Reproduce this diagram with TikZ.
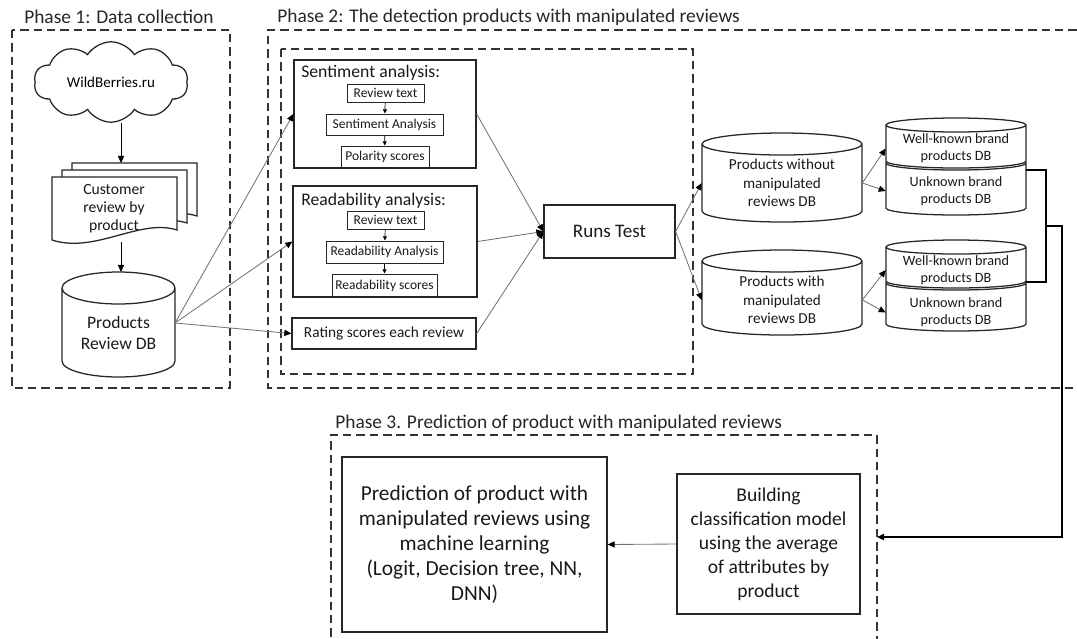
\documentclass[tikz,border=0pt]{standalone}
\usepackage{fontspec}
\setmainfont{Carlito}
\usetikzlibrary{shapes.symbols, arrows.meta}

\tikzset{
  phase/.style={draw=black!80, line width=1.3pt, dash pattern=on 6pt off 3.5pt},
  phasetitle/.style={anchor=west, inner sep=0pt, text=black!85, font=\fontsize{13.8}{16}\selectfont},
  box/.style={draw=black!85, line width=0.9pt, align=center, inner sep=0pt, text=black!90},
  minibox/.style={box, line width=0.7pt, font=\fontsize{9.6}{11}\selectfont},
  boxtitle/.style={anchor=west, inner sep=0pt, text=black!90, font=\fontsize{12.6}{14}\selectfont},
  dbline/.style={draw=black!85, line width=0.9pt},
  dbtext/.style={align=center, inner sep=0pt, text=black!90},
  flow/.style={draw=black!55, line width=0.6pt, -{Triangle[length=5pt, width=4.4pt, color=black]}},
  miniflow/.style={draw=black, line width=0.5pt, -{Triangle[length=3pt, width=2.8pt]}},
  link/.style={draw=black, line width=1.2pt}
}

% cylinder: left x, top centre y, right x, bottom centre y, half height of ellipse
\newcommand{\dbshape}[5]{%
  \draw[dbline] (#1,#2) -- (#1,#4)
    arc[start angle=180, end angle=360, x radius={(#3-#1)*0.125mm}, y radius=#5]
    -- (#3,#2)
    arc[start angle=0, end angle=360, x radius={(#3-#1)*0.125mm}, y radius=#5];
}
% lower half of a stacked cylinder
\newcommand{\dblower}[5]{%
  \draw[dbline] (#1,#2)
    arc[start angle=180, end angle=360, x radius={(#3-#1)*0.125mm}, y radius=#5]
    -- (#3,#4)
    arc[start angle=0, end angle=-180, x radius={(#3-#1)*0.125mm}, y radius=#5]
    -- cycle;
}

\begin{document}
\begin{tikzpicture}[x=0.25mm, y=-0.25mm]
\useasboundingbox (0,0) rectangle (1077,638);

% phase frames
\draw[phase] (12,30) rectangle (230,388);
\draw[phase] (1090,30) -- (268,30) -- (268,388) -- (1090,388);
\draw[phase] (281,49) rectangle (693,374);
\draw[phase] (331,650) -- (331,435) -- (877,435) -- (877,650);

\node[phasetitle] (title1) at (24,17) {Phase 1: Data collection};
\node[phasetitle] (title2) at (277,17) {Phase 2: The detection products with manipulated reviews};
\node[phasetitle] (title3) at (335,423) {Phase 3. Prediction of product with manipulated reviews};

%%% Phase 1
\node[cloud, draw=black!85, line width=0.9pt, cloud puffs=10, cloud puff arc=115, aspect=2,
      minimum width=38.5mm, minimum height=20mm, inner sep=0pt,
      font=\fontsize{10.7}{13}\selectfont] (wb) at (111,82) {WildBerries.ru};

% stacked documents
\foreach \d in {2,1,0}{
  \begin{scope}[shift={(\d*10,-\d*7)}]
    \draw[dbline, fill=white] (52,177) -- (177,177) -- (177,230)
      .. controls (140,218) and (95,254) .. (52,240) -- cycle;
  \end{scope}
}
\node[dbtext, font=\fontsize{11.1}{12.8}\selectfont] (crev) at (114,209) {Customer\\review by\\product};
\coordinate (docTop) at (121,163);
\coordinate (docBot) at (121,242);

% review database
\dbshape{62}{288}{175}{361}{4mm}
\node[dbtext, minimum width=28.25mm, font=\fontsize{12.5}{15}\selectfont] (prdb) at (118.5,332.5) {Products\\Review DB};
\coordinate (dbTop) at (121,272);
\coordinate (dbOut) at (175,323);

\draw[flow, draw=black] (wb.south -| docTop) -- (docTop);
\draw[flow, draw=black] (docBot) -- (dbTop);

%%% Phase 2
\node[box, minimum width=45.5mm, minimum height=27mm] (senti) at (385,114) {};
\node[boxtitle] (sentiTitle) at (301,73) {Sentiment analysis:};
\node[minibox, minimum width=19.25mm, minimum height=4.5mm] (rtA) at (385.5,93) {Review text};
\node[minibox, minimum width=29.25mm, minimum height=5.25mm] (saA) at (384.5,124.5) {Sentiment Analysis};
\node[minibox, minimum width=22mm, minimum height=5.5mm] (pol) at (385,157) {Polarity scores};
\draw[miniflow] (rtA) -- (saA);
\draw[miniflow] (saA) -- (pol);

\node[box, minimum width=46mm, minimum height=27.75mm] (read) at (385,241.5) {};
\node[boxtitle] (readTitle) at (301,201) {Readability analysis:};
\node[minibox, minimum width=19.25mm, minimum height=4.5mm] (rtB) at (385.5,220) {Review text};
\node[minibox, minimum width=29.25mm, minimum height=5.5mm] (raB) at (384.5,252) {Readability Analysis};
\node[minibox, minimum width=26.25mm, minimum height=5.75mm] (rsc) at (384.5,285.5) {Readability scores};
\draw[miniflow] (rtB) -- (raB);
\draw[miniflow] (raB) -- (rsc);

\node[box, minimum width=46mm, minimum height=7.75mm, font=\fontsize{10.9}{13}\selectfont] (rating) at (384,333.5) {Rating scores each review};

\node[box, minimum width=32.75mm, minimum height=13.25mm, font=\fontsize{13.6}{16}\selectfont] (runs) at (609.5,231.5) {Runs Test};

\draw[flow] (dbOut) -- (senti.west);
\draw[flow] (dbOut) -- (read.west);
\draw[flow] (dbOut) -- (rating.west);
\draw[flow] (senti.east) -- (runs.west);
\draw[flow] (read.east) -- (runs.west);
\draw[flow] (rating.east) -- (runs.west);

% split databases
\dbshape{702}{144}{862}{211}{2.75mm}
\node[dbtext, minimum width=40mm, font=\fontsize{10.8}{13}\selectfont] (pwo) at (782,183) {Products without\\manipulated\\reviews DB};
\dbshape{702}{261}{862}{324}{2.75mm}
\node[dbtext, minimum width=40mm, font=\fontsize{10.8}{13}\selectfont] (pw) at (782,300) {Products with\\manipulated\\reviews DB};

\draw[flow] (runs.east) -- (pwo.west);
\draw[flow] (runs.east) -- (pw.west);

% brand databases
\dblower{886}{163}{1026}{208}{1.75mm}
\dbshape{886}{125}{1026}{161}{1.75mm}
\node[dbtext, minimum width=35mm, font=\fontsize{10.1}{12}\selectfont] (wkA) at (956,148.5) {Well-known brand\\products DB};
\node[dbtext, minimum width=35mm, font=\fontsize{10.1}{12}\selectfont] (ukA) at (956,191) {Unknown brand\\products DB};

\dblower{886}{283}{1026}{324}{1.75mm}
\dbshape{886}{247}{1026}{281}{1.75mm}
\node[dbtext, minimum width=35mm, font=\fontsize{10.1}{12}\selectfont] (wkB) at (956,270) {Well-known brand\\products DB};
\node[dbtext, minimum width=35mm, font=\fontsize{10.1}{12}\selectfont] (ukB) at (956,312.5) {Unknown brand\\products DB};

\draw[flow] (pwo.east) -- (wkA.west);
\draw[flow] (pwo.east) -- (ukA.west);
\draw[flow] (pw.east) -- (wkB.west);
\draw[flow] (pw.east) -- (ukB.west);

%%% Phase 3
\node[box, minimum width=66.25mm, minimum height=43.75mm, font=\fontsize{15.2}{17.8}\selectfont] (pred) at (474.5,544.5)
  {Prediction of product with\\manipulated reviews using\\machine learning\\(Logit, Decision tree, NN,\\DNN)};
\node[box, minimum width=45.75mm, minimum height=35mm, font=\fontsize{13.9}{17}\selectfont] (build) at (768.5,544)
  {Building\\classification model\\using the average\\of attributes by\\product};
\draw[flow] (build.west) -- (pred.east);

% bracket back to phase 3
\coordinate (brTop) at (1026,170);
\coordinate (brBot) at (1026,282);
\coordinate (brMid) at (1046,226);
\coordinate (p3In) at (877,537);
\draw[link] (brTop) -- (1046,170) |- (brBot);
\draw[link, -{Triangle[length=5pt, width=4.4pt]}] (brMid) -- (1062,226) |- (p3In);

\end{tikzpicture}
\end{document}
